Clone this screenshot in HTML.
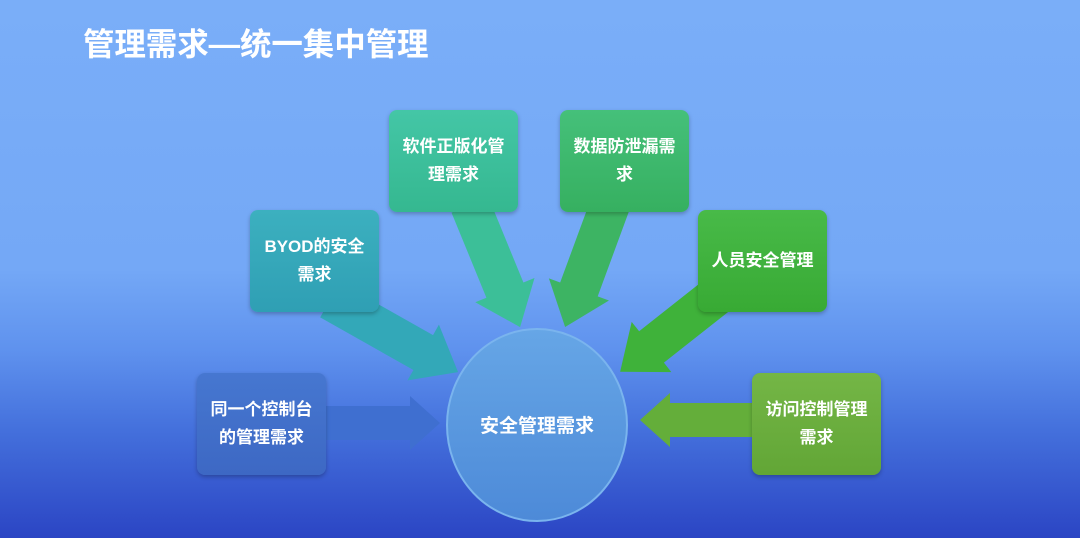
<!DOCTYPE html>
<html><head><meta charset="utf-8"><style>
html,body{margin:0;padding:0}
body{width:1080px;height:538px;overflow:hidden;position:relative;font-family:"Liberation Sans","Noto Sans CJK SC",sans-serif;
background:linear-gradient(180deg,#7aaef8 0%,#74a8f6 50%,#5f92ee 65%,#4470dc 80%,#2b45c4 100%);}
.t{position:absolute;left:83px;top:19px;font-size:31.5px;font-weight:bold;color:#fff;letter-spacing:-0.1px}
.b{position:absolute;width:129px;height:102px;border-radius:8px;color:#fff;font-weight:bold;font-size:17px;line-height:28px;
display:flex;align-items:center;justify-content:center;text-align:center;box-shadow:0 2px 4px rgba(0,0,0,.25);box-sizing:border-box;white-space:nowrap}
svg{position:absolute;left:0;top:0}
</style></head><body>
<div class="t">管理需求—统一集中管理</div>
<svg width="1080" height="538">
<defs><linearGradient id="cg" x1="0" y1="0" x2="0" y2="1"><stop offset="0" stop-color="#66a6e6"/><stop offset="1" stop-color="#4d8ad8"/></linearGradient></defs>
<g transform="translate(470,205) rotate(67.7)"><polygon points="0,-20 92,-20 92,-32 132,0 92,32 92,20 0,20" fill="#3cbf98"/></g>
<g transform="translate(610,205) rotate(110.2)"><polygon points="0,-20 90,-20 90,-32 130,0 90,32 90,20 0,20" fill="#3db463"/></g>
<g transform="translate(330,300) rotate(29.4)"><polygon points="0,-20 107,-20 107,-32 147,0 107,32 107,20 0,20" fill="#33a8b8"/></g>
<g transform="translate(730,285) rotate(141.7)"><polygon points="0,-20 100,-20 100,-32 140,0 100,32 100,20 0,20" fill="#3fb23a"/></g>
<g transform="translate(320,423)"><polygon points="0,-17 90,-17 90,-27 120,0 90,27 90,17 0,17" fill="#3f6fd0"/></g>
<g transform="translate(760,420) rotate(180)"><polygon points="0,-17 90,-17 90,-27 120,0 90,27 90,17 0,17" fill="#64ae3a"/></g>
<ellipse cx="537" cy="425" rx="90" ry="96" fill="url(#cg)" stroke="#7ab4ee" stroke-width="2"/>
<text x="537" y="432" text-anchor="middle" fill="#fff" font-size="19" font-weight="bold" font-family="Liberation Sans,Noto Sans CJK SC,sans-serif">安全管理需求</text>
</svg>
<div class="b" style="left:389px;top:110px;background:linear-gradient(#44c6a6,#35b890)">软件正版化管<br>理需求</div>
<div class="b" style="left:560px;top:110px;background:linear-gradient(#45c07a,#36b060)">数据防泄漏需<br>求</div>
<div class="b" style="left:250px;top:210px;background:linear-gradient(#3cb0bf,#2f9fb4)">BYOD的安全<br>需求</div>
<div class="b" style="left:698px;top:210px;background:linear-gradient(#48ba48,#38aa34)">人员安全管理</div>
<div class="b" style="left:197px;top:373px;background:linear-gradient(#4677d0,#3d68c4)">同一个控制台<br>的管理需求</div>
<div class="b" style="left:752px;top:373px;background:linear-gradient(#74b646,#62a636)">访问控制管理<br>需求</div>
</body></html>
